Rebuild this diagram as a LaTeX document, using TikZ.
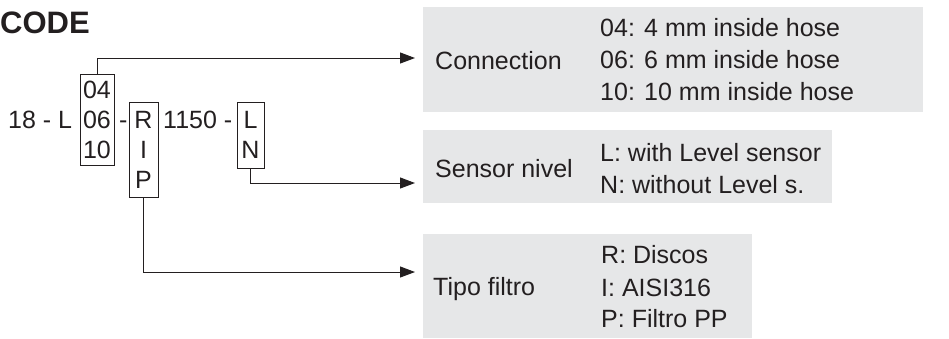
\documentclass[tikz,border=0pt]{standalone}
\usepackage{fontspec}
\setmainfont{Liberation Sans}
\usetikzlibrary{arrows.meta}
\definecolor{ink}{HTML}{231F20}
\definecolor{panel}{HTML}{E6E7E8}

\begin{document}
\begin{tikzpicture}[x=1pt,y=-1pt,
    txt/.style={anchor=base west,inner sep=0pt,text=ink,font=\fontsize{25}{30}\selectfont},
    ctr/.style={anchor=base,inner sep=0pt,text=ink,font=\fontsize{25}{30}\selectfont},
    opt/.style={draw=ink,line width=0.9pt,inner sep=0pt},
    info/.style={fill=panel,anchor=north west,inner sep=0pt},
    arr/.style={draw=ink,line width=1pt,-{Triangle[length=15pt,width=11pt]}}]
    \useasboundingbox (0,0) rectangle (949,338);

    \node[anchor=base west,inner sep=0pt,text=ink,font=\fontsize{31}{36}\selectfont\bfseries] (title) at (0,33) {CODE};

    \node[txt] (pre) at (8,128) {18 - L};
    \node[opt,minimum width=34pt,minimum height=91pt] (conn) at (97,119.5) {};
    \node[ctr] (c04) at (97,98) {04};
    \node[ctr] (c06) at (97,128) {06};
    \node[ctr] (c10) at (97,158) {10};
    \node[txt] (dash1) at (119,128) {-};
    \node[opt,minimum width=29pt,minimum height=95pt] (filt) at (143.5,149.5) {};
    \node[ctr] (fR) at (143.5,128) {R};
    \node[ctr] (fI) at (143.5,158) {I};
    \node[ctr] (fP) at (143.5,188) {P};
    \node[txt] (mid) at (163,128) {1150 -};
    \node[opt,minimum width=27pt,minimum height=66pt] (lev) at (250.5,135) {};
    \node[ctr] (lL) at (250.5,128) {L};
    \node[ctr] (lN) at (250.5,158) {N};

    \node[info,minimum width=500pt,minimum height=105pt] (pConn) at (423,7) {};
    \node[info,minimum width=409pt,minimum height=73pt] (pSens) at (423,130) {};
    \node[info,minimum width=329pt,minimum height=104pt] (pTipo) at (423,234) {};

    \node[txt] (tConn) at (435,69) {Connection};
    \node[txt] (o04) at (600,36) {04: 4 mm inside hose};
    \node[txt] (o06) at (600,68) {06: 6 mm inside hose};
    \node[txt] (o10) at (600,100) {10: 10 mm inside hose};

    \node[txt] (tSens) at (435,177) {Sensor nivel};
    \node[txt] (oL) at (600,161) {L: with Level sensor};
    \node[txt] (oN) at (600,193) {N: without Level s.};

    \node[txt] (tTipo) at (433,295) {Tipo filtro};
    \node[txt] (oR) at (601,263) {R: Discos};
    \node[txt] (oI) at (601,296) {I: AISI316};
    \node[txt] (oP) at (601,327) {P: Filtro PP};

    \coordinate (eConn) at (415,58);
    \coordinate (eSens) at (415,183);
    \coordinate (eTipo) at (415,272);

    \draw[arr] (conn.north) |- (eConn);
    \draw[arr] (lev.south) |- (eSens);
    \draw[arr] (filt.south) |- (eTipo);
\end{tikzpicture}
\end{document}
